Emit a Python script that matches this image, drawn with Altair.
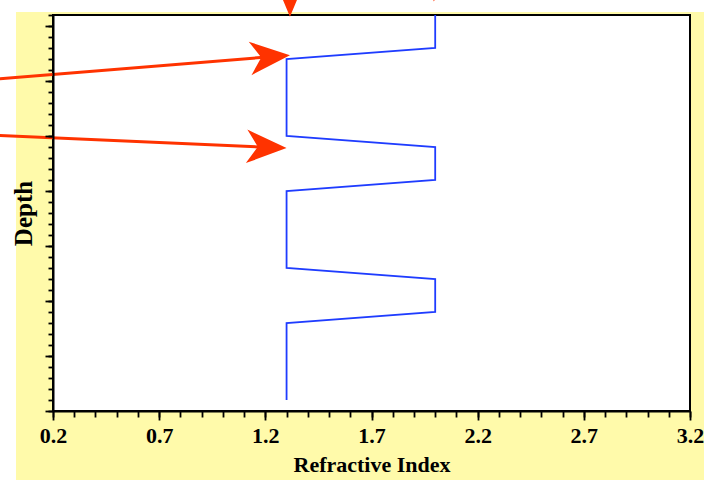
import math
import altair as alt
import pandas as pd

# ---- data -------------------------------------------------------------
# Refractive-index profile (blue line), depth measured downward
depth = [0.0, 0.6, 0.8, 2.2, 2.4, 3.0, 3.2, 4.6, 4.8, 5.4, 5.6, 7.0]
index = [2.0, 2.0, 1.3, 1.3, 2.0, 2.0, 1.3, 1.3, 2.0, 2.0, 1.3, 1.3]

# annotation arrows: tail (x0, y0) and tip (x1, y1) in data units
arrow_x0 = [-0.05, -0.05, 1.316, 1.994]
arrow_y0 = [1.16, 2.19, -1.2, -1.6]
arrow_x1 = [1.316, 1.30, 1.316, 1.994]
arrow_y1 = [0.73, 2.42, 0.03, -0.245]

# axis ticks
x_major = [0.2, 0.7, 1.2, 1.7, 2.2, 2.7, 3.2]
x_minor = [round(0.2 + 0.1 * i, 1) for i in range(31)]
y_major = [0.2, 1.2, 2.2, 3.2, 4.2, 5.2, 6.2, 7.2]
y_minor = [round(0.2 * i, 1) for i in range(37)]

# ---- styling ----------------------------------------------------------
W, H = 637, 396
X_DOM = [0.2, 3.2]
Y_DOM = [0.0, 7.2]
YELLOW = "#FFFAAA"
BLUE = "#1F3CFF"
RED = "#FF3300"
FONT = "Liberation Serif"
HEAD_LEN = 40  # px
ARROW_PATH = "M0,0 L-1,-0.42 L-0.72,0 L-1,0.42 Z"

px_x = W / (X_DOM[1] - X_DOM[0])
px_y = H / (Y_DOM[1] - Y_DOM[0])

rows = []
for x0, y0, x1, y1 in zip(arrow_x0, arrow_y0, arrow_x1, arrow_y1):
    dx = (x1 - x0) * px_x
    dy = (y1 - y0) * px_y
    ang = math.atan2(dy, dx)
    back = HEAD_LEN * 0.65
    xs = x1 - math.cos(ang) * back / px_x
    ys = y1 - math.sin(ang) * back / px_y
    rows.append({"x0": x0, "y0": y0, "x1": x1, "y1": y1,
                 "xs": xs, "ys": ys, "angle": math.degrees(ang) % 360})
arrows = pd.DataFrame(rows)

profile = pd.DataFrame({"index": index, "depth": depth, "order": list(range(len(depth)))})
dummy = pd.DataFrame({"a": [0]})

xs_scale = alt.Scale(domain=X_DOM, nice=False, zero=False)
ys_scale = alt.Scale(domain=Y_DOM, nice=False, zero=False, reverse=True)

common_axis = dict(grid=False, zindex=1, tickColor="black", domainColor="black",
                   tickWidth=1.8, domainWidth=2)

bg = alt.Chart(dummy).mark_rect(color=YELLOW).encode(
    x=alt.value(-37), x2=alt.value(W + 14), y=alt.value(-3), y2=alt.value(H + 69)
)
plot_box = alt.Chart(dummy).mark_rect(fill="white", stroke="black", strokeWidth=2).encode(
    x=alt.value(0), x2=alt.value(W), y=alt.value(0), y2=alt.value(H)
)

line = alt.Chart(profile).mark_line(color=BLUE, strokeWidth=1.8).encode(
    x=alt.X("index:Q", scale=xs_scale, title="Refractive Index",
            axis=alt.Axis(orient="bottom", values=x_major, format=".1f", tickSize=9,
                          labelFont=FONT, labelFontWeight="bold", labelFontSize=22,
                          labelColor="black", labelPadding=5, labelFlush=False,
                          labelOverlap=False, titleFont=FONT, titleFontWeight="bold",
                          titleFontSize=22, titleColor="black", titlePadding=8,
                          **common_axis)),
    y=alt.Y("depth:Q", scale=ys_scale, title="Depth",
            axis=alt.Axis(orient="left", values=y_major, labels=False, tickSize=8,
                          titleFont=FONT, titleFontWeight="bold", titleFontSize=25,
                          titleColor="black", titlePadding=8, **common_axis)),
    order="order:Q",
)

shafts = alt.Chart(arrows).mark_rule(color=RED, strokeWidth=3).encode(
    x=alt.X("x0:Q", scale=xs_scale, title=None,
            axis=alt.Axis(orient="bottom", values=x_minor, labels=False, tickSize=6,
                          domain=False, **common_axis)),
    y=alt.Y("y0:Q", scale=ys_scale, title=None,
            axis=alt.Axis(orient="left", values=y_minor, labels=False, tickSize=5,
                          domain=False, **common_axis)),
    x2="xs:Q",
    y2="ys:Q",
)

heads = alt.Chart(arrows).mark_point(
    shape=ARROW_PATH, size=(2 * HEAD_LEN) ** 2, filled=True, opacity=1,
    color=RED, strokeWidth=0
).encode(
    x=alt.X("x1:Q", scale=xs_scale, axis=None),
    y=alt.Y("y1:Q", scale=ys_scale, axis=None),
    angle=alt.Angle("angle:Q", scale=None),
)

chart = alt.layer(bg, plot_box, line, shafts, heads).resolve_axis(
    x="independent", y="independent"
).properties(
    width=W, height=H,
    autosize=alt.AutoSizeParams(type="none"),
    padding={"left": 53, "top": 15, "right": 14, "bottom": 69},
    background="white",
).configure_view(stroke=None)

chart.save("out.html", embed_options={"renderer": "svg", "actions": False})
